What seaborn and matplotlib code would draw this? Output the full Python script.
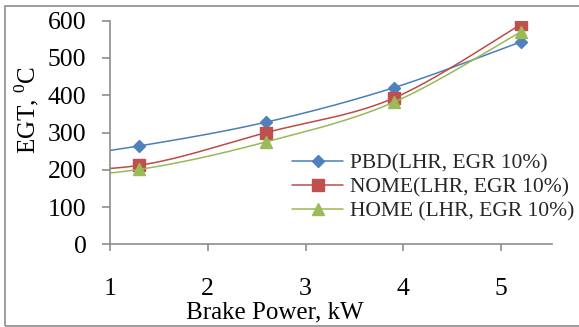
import numpy as np
import pandas as pd
import matplotlib
matplotlib.use("Agg")
import matplotlib.pyplot as plt
import seaborn as sns
from matplotlib.lines import Line2D
from matplotlib.patches import Rectangle

# ---- data ----
brake_power = [0.0, 1.3, 2.6, 3.9, 5.2]          # x = 0 point lies left of the visible axis
pbd = [216, 264, 328, 420, 543]
nome = [196, 212, 300, 392, 590]
home = [172, 201, 275, 381, 570]
series_names = ["PBD(LHR, EGR 10%)", "NOME(LHR, EGR 10%)", "HOME (LHR, EGR 10%)"]
x_ticks = [1, 2, 3, 4, 5]
y_ticks = [0, 100, 200, 300, 400, 500, 600]

line_colors = ["#4A7EBB", "#BE4B48", "#98B954"]
marker_colors = ["#4F81BD", "#C0504D", "#9BBB59"]
markers = ["D", "s", "^"]
msizes = [6, 8, 8]


def excel_smooth(xs, ys, n=60):
    """Bezier smoothing similar to Excel's smoothed line (Catmull-Rom style)."""
    P = np.column_stack([xs, ys]).astype(float)
    out = []
    m = len(P)
    for i in range(m - 1):
        p0 = P[i]
        p3 = P[i + 1]
        prev = P[i - 1] if i > 0 else P[i]
        nxt = P[i + 2] if i + 2 < m else P[i + 1]
        c1 = p0 + (p3 - prev) / 6.0
        c2 = p3 - (nxt - p0) / 6.0
        t = np.linspace(0, 1, n)[:, None]
        seg = ((1 - t) ** 3) * p0 + 3 * ((1 - t) ** 2) * t * c1 + 3 * (1 - t) * t ** 2 * c2 + t ** 3 * p3
        out.append(seg if i == 0 else seg[1:])
    arr = np.vstack(out)
    return arr[:, 0], arr[:, 1]


sns.set_theme(style="white")
plt.rcParams["font.family"] = ["Liberation Serif", "DejaVu Serif"]
plt.rcParams["mathtext.fontset"] = "custom"
plt.rcParams["mathtext.rm"] = "Liberation Serif"

fig = plt.figure(figsize=(5.79, 3.27), dpi=100)
ax = fig.add_axes([110 / 579, 1 - 244.3 / 327, (552 - 110) / 579, (244.3 - 20.7) / 327])

handles = []
for name, vals, lc, mc, mk, ms in zip(series_names, [pbd, nome, home], line_colors, marker_colors, markers, msizes):
    cx, cy = excel_smooth(brake_power, vals)
    sns.lineplot(x=cx, y=cy, ax=ax, color=lc, linewidth=1.1, sort=False, estimator=None)
    ax.plot(brake_power, vals, linestyle="none", marker=mk, markersize=ms,
            markerfacecolor=mc, markeredgecolor=mc, clip_on=True)
    handles.append(Line2D([0], [0], color=lc, linewidth=1.1, marker=mk, markersize=ms,
                          markerfacecolor=mc, markeredgecolor=mc, label=name))

ax.set_xlim(1, 5.52)
ax.set_ylim(0, 600)
ax.set_xticks(x_ticks)
ax.set_yticks(y_ticks)
ax.grid(False)

for side in ["top", "right"]:
    ax.spines[side].set_visible(False)
for side in ["left", "bottom"]:
    ax.spines[side].set_color("#8C8C8C")
    ax.spines[side].set_linewidth(1.2)

ax.tick_params(axis="x", direction="out", length=5, width=1.2, color="#8C8C8C",
               pad=19, labelsize=18.5, labelcolor="black", bottom=True)
ax.tick_params(axis="y", direction="out", length=6, width=1.2, color="#8C8C8C",
               pad=11, labelsize=18.5, labelcolor="black", left=True)

ax.set_xlabel("Brake Power, kW", fontsize=18, color="black")
ax.xaxis.set_label_coords(0.373, -0.256)
ax.set_ylabel("EGT, $^{0}$C", fontsize=18, color="black")
ax.yaxis.set_label_coords(-0.156, 0.6)

leg = fig.legend(handles=handles, loc="upper left", bbox_to_anchor=(292 / 579, 1 - 153 / 327),
                 frameon=False, fontsize=15.5, handlelength=2.37, handletextpad=0.33,
                 labelspacing=0.2, borderaxespad=0, borderpad=0)

fig.patches.append(Rectangle((5 / 579, 1.5 / 327), 1.2, 320 / 327, transform=fig.transFigure,
                             fill=False, edgecolor="#8C8C8C", linewidth=1.2))

fig.savefig("out.png", dpi=100)
